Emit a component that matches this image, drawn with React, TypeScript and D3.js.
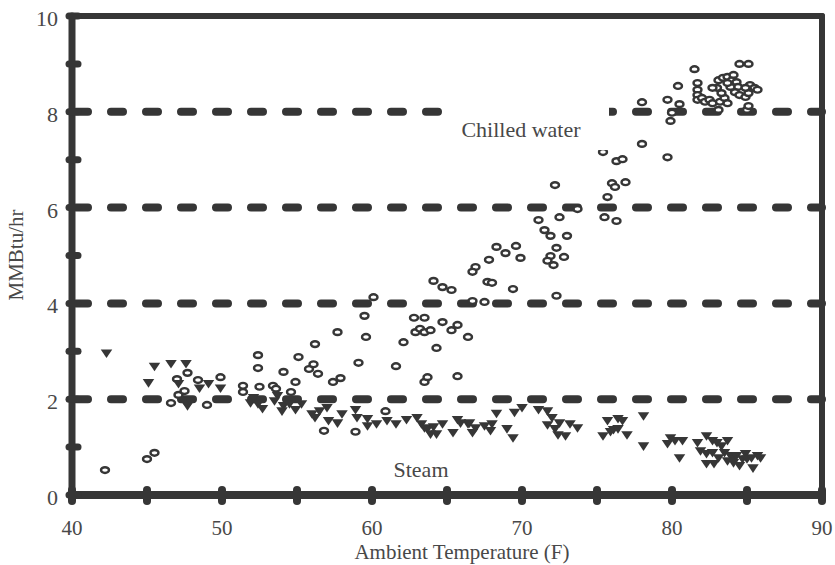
import React from "react";
import * as d3 from "d3";

// Hourly plant loads vs. outdoor temperature: [temperature °F, load MMBtu/hr]
const chilledWater: [number, number][] = [
  [42.2, 0.52], [45.0, 0.75], [45.5, 0.88],
  [46.6, 1.92], [47.0, 2.42], [47.1, 2.09], [47.5, 2.17], [47.7, 2.55], [48.4, 2.4], [49.0, 1.88], [49.9, 2.46],
  [51.4, 2.28], [51.4, 2.15], [52.4, 2.92], [52.4, 2.65], [52.5, 2.26], [53.4, 2.28], [53.6, 2.22],
  [54.1, 2.57], [54.6, 2.15], [54.9, 2.36], [55.1, 2.88], [55.8, 2.63], [56.1, 2.73], [56.2, 3.15], [56.4, 2.53],
  [57.4, 2.36], [57.7, 3.4], [57.9, 2.44], [59.1, 2.76], [59.5, 3.74], [59.6, 3.3], [60.1, 4.13],
  [60.9, 1.75], [56.8, 1.34], [58.9, 1.32],
  [61.6, 2.69], [62.1, 3.19], [62.8, 3.7], [63.5, 3.7], [62.9, 3.4], [63.2, 3.47], [63.5, 3.4], [63.9, 3.44],
  [64.3, 3.07], [64.7, 3.61], [65.3, 3.44], [65.7, 3.55], [64.1, 4.47], [64.7, 4.34], [65.3, 4.28],
  [63.5, 2.36], [63.7, 2.46], [65.7, 2.48], [66.4, 3.3],
  [66.7, 4.05], [67.5, 4.03], [66.9, 4.76], [66.7, 4.66], [67.7, 4.45], [68.0, 4.43], [67.8, 4.91],
  [68.3, 5.18], [68.9, 5.05], [69.6, 5.2], [69.9, 4.95], [69.4, 4.3],
  [71.1, 5.74], [71.5, 5.53], [71.9, 5.41], [72.5, 5.8], [73.0, 5.41], [72.2, 6.47], [73.7, 5.97],
  [72.3, 5.16], [71.9, 4.99], [71.7, 4.89], [72.1, 4.8], [72.8, 4.97], [72.3, 4.16],
  [75.4, 7.16], [75.5, 5.8], [76.3, 5.72], [75.7, 6.22], [76.0, 6.51], [76.2, 6.43], [76.9, 6.53],
  [76.3, 6.97], [76.7, 7.01],
  [78.0, 7.33], [78.0, 8.2], [79.7, 7.05], [79.9, 7.81], [79.7, 8.25], [80.5, 8.16], [80.0, 7.98],
  [80.4, 8.54], [81.5, 8.89], [84.5, 9.0], [85.1, 9.0],
  [81.7, 8.6], [81.7, 8.46], [81.7, 8.35], [81.7, 8.25], [82.0, 8.29], [82.2, 8.21], [82.5, 8.25],
  [82.7, 8.18], [83.2, 8.21], [83.1, 8.04], [83.5, 8.29], [83.7, 8.18], [83.3, 8.39], [83.0, 8.5],
  [82.7, 8.5], [83.1, 8.66], [83.4, 8.71], [83.7, 8.73], [84.0, 8.66], [84.3, 8.62], [84.4, 8.52],
  [84.2, 8.41], [84.5, 8.35], [84.9, 8.31], [85.1, 8.39], [85.2, 8.56], [85.5, 8.5], [85.7, 8.46],
  [84.9, 8.5], [83.9, 8.52], [83.7, 8.6], [84.1, 8.77], [85.0, 8.04], [85.1, 8.12],
];

const steam: [number, number][] = [
  [42.3, 2.98], [45.5, 2.7], [46.6, 2.76], [47.6, 2.76], [45.1, 2.36], [47.1, 2.34], [48.5, 2.25],
  [49.1, 2.34], [49.9, 2.25], [47.5, 1.98], [47.7, 1.88], [47.9, 1.98],
  [52.1, 2.05], [52.4, 1.92], [52.7, 1.82], [51.9, 1.94], [53.7, 2.09],
  [53.5, 1.98], [54.1, 1.88], [54.5, 1.92], [54.0, 1.77], [54.9, 1.8], [55.3, 1.92], [56.0, 1.71],
  [56.2, 1.63], [56.5, 1.77], [57.0, 1.84], [57.1, 1.57], [57.7, 1.52], [58.0, 1.71], [58.9, 1.8],
  [59.0, 1.63], [59.7, 1.61], [59.7, 1.46], [60.3, 1.5], [61.0, 1.57], [61.6, 1.5], [62.3, 1.59],
  [63.0, 1.63], [63.3, 1.5], [63.5, 1.42], [63.7, 1.4], [64.1, 1.44], [63.9, 1.29], [64.3, 1.29],
  [64.7, 1.5], [65.4, 1.32], [65.7, 1.59], [66.4, 1.5],
  [65.9, 1.52], [66.5, 1.52], [66.9, 1.42], [66.7, 1.32], [67.5, 1.46], [68.0, 1.5], [67.9, 1.36],
  [68.3, 1.72], [69.5, 1.74], [70.0, 1.84], [69.0, 1.4], [69.4, 1.21],
  [71.1, 1.8], [71.7, 1.77], [72.0, 1.63], [71.7, 1.48], [72.2, 1.4], [72.5, 1.52], [72.4, 1.27],
  [72.9, 1.25], [73.2, 1.5], [73.7, 1.42],
  [75.7, 1.57], [76.4, 1.61], [76.7, 1.57], [76.1, 1.38], [75.9, 1.34], [76.4, 1.4], [75.4, 1.25], [77.0, 1.27],
  [78.1, 1.67], [78.1, 1.04], [79.9, 1.21], [80.2, 1.15], [80.7, 1.15], [79.7, 1.09], [80.5, 0.79],
  [81.7, 1.11], [82.3, 1.25], [82.7, 1.15], [83.0, 1.11], [83.3, 1.04], [83.7, 1.15], [81.9, 0.94],
  [82.3, 0.88], [82.7, 0.9], [83.1, 0.79], [83.5, 0.9], [83.9, 0.84], [84.1, 0.77], [84.3, 0.84],
  [84.7, 0.77], [84.9, 0.88], [85.0, 0.77], [85.3, 0.79], [85.7, 0.84], [85.9, 0.79], [82.3, 0.67],
  [82.8, 0.67], [84.5, 0.63], [85.4, 0.58], [83.7, 0.73], [84.1, 0.69],
];

const gridValues = [2, 4, 6, 8];
const seriesLabels = { chilled: "Chilled water", steam: "Steam" };
const xTitle = "Ambient Temperature (F)";
const yTitle = "MMBtu/hr";

const W = 835;
const H = 565;
const INK = "#363636";
const TEXT = "#484848";
const FONT = "'Liberation Serif', 'Times New Roman', serif";

export default function App() {
  const x = d3.scaleLinear().domain([40, 90]).range([72, 822]);
  const y = d3.scaleLinear().domain([0, 10]).range([495, 16]);
  const xTicks = x.ticks(10);
  const yTicks = y.ticks(10);
  const xLabels = x.ticks(5);
  const yLabels = y.ticks(5);
  const tri = d3.symbol().type(d3.symbolTriangle).size(52)();

  return (
    <svg
      width={W}
      height={H}
      style={{ position: "absolute", left: 0, top: 0, background: "#fff" }}
      fontFamily={FONT}
    >
      <rect width={W} height={H} fill="#fff" />

      {/* dashed reference lines */}
      {gridValues.map((v) => (
        <line
          key={v}
          x1={x(40) + 4}
          x2={x(90)}
          y1={y(v)}
          y2={y(v)}
          stroke={INK}
          strokeWidth={8}
          strokeLinecap="round"
          strokeDasharray="12 23"
        />
      ))}

      {/* chilled water: open ellipses */}
      {chilledWater.map(([t, v], i) => (
        <ellipse
          key={"c" + i}
          cx={x(t)}
          cy={y(v)}
          rx={4}
          ry={2.9}
          fill="#fff"
          stroke={INK}
          strokeWidth={2.4}
        />
      ))}

      {/* steam: filled downward triangles */}
      {steam.map(([t, v], i) => (
        <path
          key={"s" + i}
          d={tri}
          transform={`translate(${x(t)},${y(v)}) rotate(180) scale(1.05,0.9)`}
          fill={INK}
        />
      ))}

      {/* series labels on white backing */}
      <rect x={445} y={100} width={164} height={50} fill="#fff" />
      <text x={521} y={137} textAnchor="middle" fontSize={22} fill={TEXT}>
        {seriesLabels.chilled}
      </text>
      <text x={421} y={477} textAnchor="middle" fontSize={22} fill={TEXT}>
        {seriesLabels.steam}
      </text>

      {/* frame */}
      <line x1={x(40)} x2={x(90)} y1={y(10)} y2={y(10)} stroke={INK} strokeWidth={6} strokeLinecap="round" />
      <line x1={x(90)} x2={x(90)} y1={y(10)} y2={y(0)} stroke={INK} strokeWidth={6} strokeLinecap="round" />
      <line x1={x(40)} x2={x(40)} y1={y(10)} y2={y(0)} stroke={INK} strokeWidth={7} strokeLinecap="round" />
      <line x1={x(40)} x2={x(90)} y1={y(0)} y2={y(0)} stroke={INK} strokeWidth={8} strokeLinecap="round" />

      {/* y ticks */}
      {yTicks.map((v) => (
        <line
          key={"yt" + v}
          x1={x(40) - 3}
          x2={x(40) + 6}
          y1={y(v)}
          y2={y(v)}
          stroke={INK}
          strokeWidth={7}
          strokeLinecap="round"
        />
      ))}
      {/* x ticks */}
      {xTicks.map((t) => (
        <line
          key={"xt" + t}
          x1={x(t)}
          x2={x(t)}
          y1={y(0) - 5}
          y2={y(0) + 6}
          stroke={INK}
          strokeWidth={8}
          strokeLinecap="round"
        />
      ))}

      {/* tick labels */}
      {yLabels.map((v) => (
        <text key={"yl" + v} x={58} y={y(v) + 10} textAnchor="end" fontSize={22} fill={TEXT}>
          {v}
        </text>
      ))}
      {xLabels.map((t) => (
        <text key={"xl" + t} x={x(t)} y={535} textAnchor="middle" fontSize={21} fill={TEXT}>
          {t}
        </text>
      ))}

      {/* axis titles */}
      <text x={462} y={559} textAnchor="middle" fontSize={21} fill={TEXT}>
        {xTitle}
      </text>
      <text
        transform={`translate(23,255) rotate(-90)`}
        textAnchor="middle"
        fontSize={21}
        fill={TEXT}
      >
        {yTitle}
      </text>
    </svg>
  );
}
